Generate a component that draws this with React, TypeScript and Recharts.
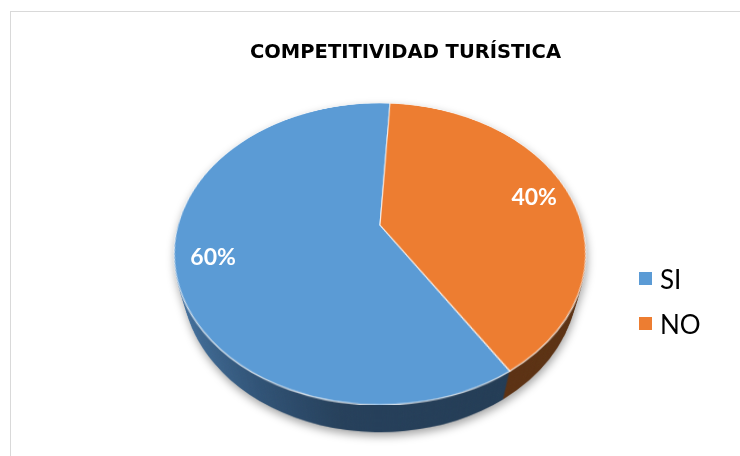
import React from "react";
import { PieChart, Pie, Cell, Legend } from "recharts";

// ---- data ----
const categories = ["SI", "NO"];
const values = [60, 40];
const topColors = ["#5b9bd5", "#ed7d31"];
const sideColors = ["url(#sideBlue)", "#5c3214"];
const title = "COMPETITIVIDAD TURÍSTICA";

const data = categories.map((name, i) => ({ name, value: values[i] }));

// ---- geometry / styling ----
const R = 202;
const TILT = 44; // degrees
const PERSP = 730;
const DEPTH = 45;
const STEP = 1.5;
const START = -57.4;
const END = START - 360;
const CX = 372;
const CY = 217;
const LABEL_POS = 0.82;

const layerDepths: number[] = [];
for (let t = DEPTH; t > 0.01; t -= STEP) layerDepths.push(t);

const noMargin = { top: 0, right: 0, bottom: 0, left: 0 };

function Layer({ t, top }: { t: number; top: boolean }) {
  return (
    <div
      style={{
        position: "absolute",
        left: CX - R,
        top: CY - R,
        width: 2 * R,
        height: 2 * R,
        transformOrigin: "50% 50%",
        transform: `rotateX(${TILT}deg) translateZ(${-t}px)`,
      }}
    >
      <PieChart width={2 * R} height={2 * R} margin={noMargin}>
        <Pie
          data={data}
          dataKey="value"
          nameKey="name"
          cx={R}
          cy={R}
          outerRadius={R}
          startAngle={START}
          endAngle={END}
          isAnimationActive={false}
          stroke={top ? "rgba(255,255,255,0.75)" : "none"}
          strokeWidth={top ? 1.2 : 0}
          label={false}
          labelLine={false}
        >
          {data.map((d, i) => (
            <Cell key={d.name} fill={top ? topColors[i] : sideColors[i]} />
          ))}
        </Pie>
      </PieChart>
    </div>
  );
}

const renderLabel = (props: any) => {
  const { cx, cy, midAngle, outerRadius, percent } = props;
  const rad = (midAngle * Math.PI) / 180;
  const r = outerRadius * LABEL_POS;
  const dx = r * Math.cos(rad);
  const dy = -r * Math.sin(rad);
  const th = (TILT * Math.PI) / 180;
  const z = dy * Math.sin(th);
  const f = PERSP / (PERSP - z);
  const x = cx + dx * f;
  const y = cy + dy * Math.cos(th) * f;
  return (
    <text
      x={x}
      y={y}
      fill="#ffffff"
      textAnchor="middle"
      dominantBaseline="central"
      style={{ fontFamily: "Lato", fontWeight: 700, fontSize: 23 }}
    >
      {`${Math.round(percent * 100)}%`}
    </text>
  );
};

const renderLegend = (props: any) => {
  const payload = [...(props.payload || [])].sort(
    (a: any, b: any) => categories.indexOf(a.value) - categories.indexOf(b.value)
  );
  return (
    <div>
      {payload.map((entry: any) => {
        const idx = categories.indexOf(entry.value);
        return (
          <div
            key={entry.value}
            style={{ display: "flex", alignItems: "center", height: 45 }}
          >
            <span
              style={{
                display: "inline-block",
                width: 13,
                height: 13,
                background: topColors[idx],
                marginRight: 8,
              }}
            />
            <span
              style={{
                fontFamily: "Lato",
                fontSize: 26,
                color: "#000000",
                lineHeight: "26px",
              }}
            >
              {entry.value}
            </span>
          </div>
        );
      })}
    </div>
  );
};

export default function App() {
  return (
    <div
      style={{
        position: "relative",
        width: 732,
        height: 440,
        overflow: "hidden",
      }}
    >
      <div
        style={{
          position: "fixed",
          left: 10,
          top: 11,
          width: 800,
          height: 500,
          border: "1px solid #d9d9d9",
          background: "#ffffff",
        }}
      />
      <svg width={0} height={0} style={{ position: "absolute" }}>
        <defs>
          <linearGradient
            id="sideBlue"
            gradientUnits="userSpaceOnUse"
            x1="0"
            y1="0"
            x2={2 * R}
            y2="0"
          >
            <stop offset="0" stopColor="#4877a7" />
            <stop offset="0.1" stopColor="#3e6891" />
            <stop offset="0.25" stopColor="#305275" />
            <stop offset="0.42" stopColor="#26405b" />
            <stop offset="1" stopColor="#223a52" />
          </linearGradient>
        </defs>
      </svg>
      <div
        style={{
          position: "absolute",
          left: 0,
          top: 0,
          width: 732,
          height: 440,
          fontFamily: "'DejaVu Sans'",
          fontWeight: 700,
          fontSize: 19.5,
          lineHeight: "19.5px",
        }}
      >
        <div
          style={{
            position: "absolute",
            left: 97.5,
            width: 600,
            top: 34,
            textAlign: "center",
            color: "#000000",
          }}
        >
          {title}
        </div>
      </div>
      <div
        style={{
          position: "absolute",
          left: 0,
          top: 0,
          width: 732,
          height: 440,
          filter: "drop-shadow(1px 4px 4px rgba(0,0,0,0.35))",
        }}
      >
        <div
          style={{
            position: "absolute",
            left: 0,
            top: 0,
            width: 732,
            height: 440,
            perspective: `${PERSP}px`,
            perspectiveOrigin: `${CX}px ${CY}px`,
          }}
        >
          {layerDepths.map((t) => (
            <Layer key={t} t={t} top={false} />
          ))}
          <Layer t={0} top={true} />
        </div>
      </div>
      <div style={{ position: "absolute", left: 0, top: 0 }}>
        <PieChart width={732} height={440} margin={noMargin}>
          <Pie
            data={data}
            dataKey="value"
            nameKey="name"
            cx={CX}
            cy={CY}
            outerRadius={R}
            startAngle={START}
            endAngle={END}
            isAnimationActive={false}
            stroke="none"
            label={renderLabel}
            labelLine={false}
          >
            {data.map((d, i) => (
              <Cell key={d.name} fill={topColors[i]} fillOpacity={0} />
            ))}
          </Pie>
          <Legend
            layout="vertical"
            content={renderLegend}
            wrapperStyle={{ position: "absolute", left: 631, top: 248, width: 100 }}
          />
        </PieChart>
      </div>
    </div>
  );
}
